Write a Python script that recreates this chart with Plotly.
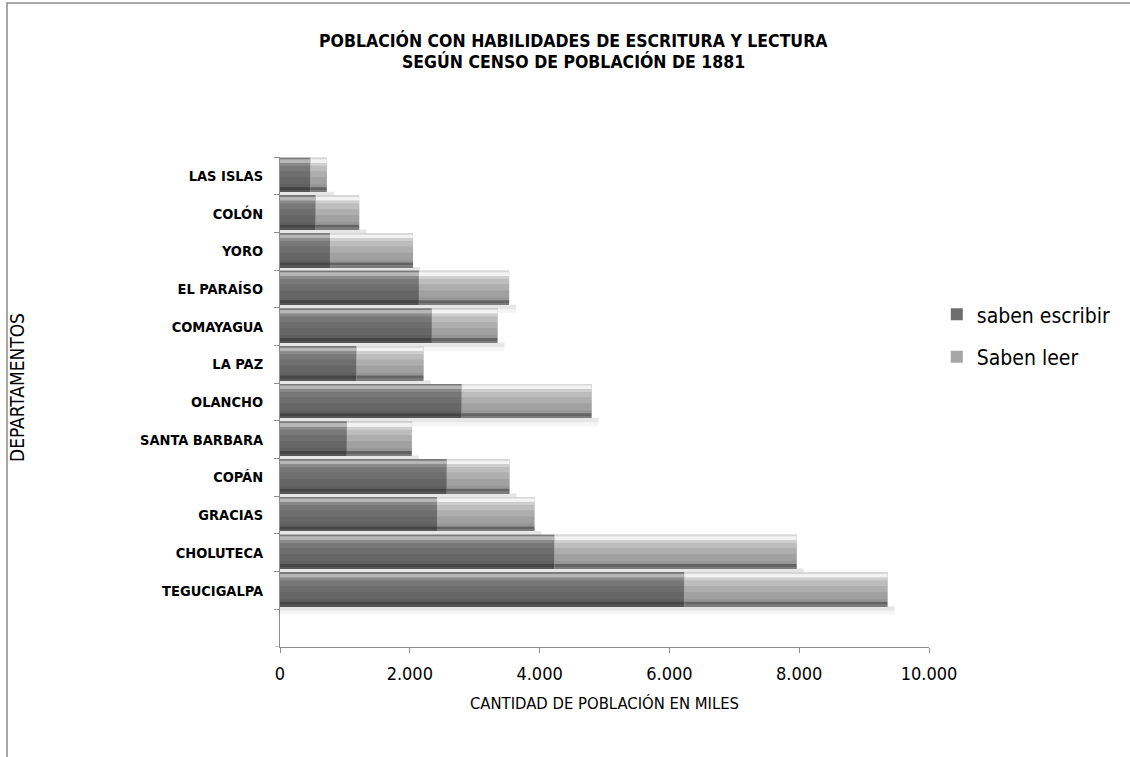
import plotly.graph_objects as go

# Departamentos, de abajo hacia arriba
departamentos = [
    "TEGUCIGALPA", "CHOLUTECA", "GRACIAS", "COPÁN", "SANTA BARBARA", "OLANCHO",
    "LA PAZ", "COMAYAGUA", "EL PARAÍSO", "YORO", "COLÓN", "LAS ISLAS",
]
saben_escribir = [6230, 4230, 2420, 2570, 1030, 2800, 1180, 2340, 2140, 770, 550, 470]
saben_leer = [3130, 3730, 1500, 965, 1000, 2000, 1030, 1010, 1390, 1280, 670, 250]
x_ticks = [0, 2000, 4000, 6000, 8000, 10000]

total = [e + l for e, l in zip(saben_escribir, saben_leer)]

NARROW = "'DejaVu Sans Condensed', 'Liberation Sans', Arial, sans-serif"
AXIS_GREY = "#8c8c8c"

fig = go.Figure()


def layer(values, base, y0, y1, color, name=None, legend=False):
    fig.add_trace(go.Bar(
        y=departamentos, x=values, base=base, orientation="h",
        offset=y0, width=y1 - y0,
        marker=dict(color=color, line=dict(width=0)),
        name=name, showlegend=legend, legendgroup=name,
        hoverinfo="skip" if not legend else None,
    ))


# soft drop shadow under each bar
shadow_len = [t + 110 for t in total]
layer(shadow_len, [0] * len(total), -0.64, -0.42, "rgba(0,0,0,0.04)")
layer(shadow_len, [0] * len(total), -0.54, -0.42, "rgba(0,0,0,0.06)")

# horizontal shading bands of each bar face, top to bottom (offsets within the slot)
BANDS = [(0.44, 0.48), (0.34, 0.44), (0.26, 0.34), (0.12, 0.26),
         (-0.04, 0.12), (-0.22, -0.04), (-0.30, -0.22), (-0.38, -0.30), (-0.42, -0.38)]
series = [
    ("saben escribir", saben_escribir, [0] * len(saben_escribir), "#6e6e6e",
     ["#7a7a7a", "#b6b6b6", "#8a8a8a", "#787878", "#6e6e6e",
      "#666666", "#606060", "#444444", "#565656"]),
    ("Saben leer", saben_leer, saben_escribir, "#a6a6a6",
     ["#d6d6d6", "#f2f2f2", "#cfcfcf", "#bdbdbd", "#aeaeae",
      "#a1a1a1", "#979797", "#636363", "#7c7c7c"]),
]
for name, vals, base, legend_color, shades in series:
    # full-height face carries the legend entry
    layer(vals, base, -0.42, 0.48, legend_color, name=name, legend=True)
    for (y0, y1), col in zip(BANDS, shades):
        layer(vals, base, y0, y1, col)

fig.update_layout(
    width=1130, height=757,
    margin=dict(l=280, r=201, t=157, b=110, autoexpand=False),
    paper_bgcolor="white", plot_bgcolor="white",
    barmode="overlay",
    separators=",.",
    font=dict(family=NARROW, color="#000000"),
    showlegend=True,
    legend=dict(
        x=1.012, xanchor="left", y=0.72, yanchor="top",
        font=dict(size=21, family=NARROW, color="#000000"),
        traceorder="grouped", tracegroupgap=12,
        bgcolor="rgba(0,0,0,0)", itemwidth=30,
    ),
    xaxis=dict(
        range=[0, 10000], tickvals=x_ticks, tickformat=",d",
        showgrid=False, zeroline=False,
        showline=True, linecolor=AXIS_GREY, linewidth=1,
        ticks="outside", ticklen=5, tickcolor=AXIS_GREY,
        tickfont=dict(size=18, family=NARROW),
        ticklabelstandoff=5,
        title=dict(text="CANTIDAD DE POBLACIÓN EN MILES",
                   font=dict(size=16.5, family=NARROW), standoff=14),
    ),
    yaxis=dict(
        type="category", categoryorder="array", categoryarray=departamentos,
        range=[-1.5, 11.5], tickson="boundaries",
        showgrid=False, zeroline=False,
        showline=True, linecolor=AXIS_GREY, linewidth=1,
        ticks="outside", ticklen=5, tickcolor=AXIS_GREY,
        tickfont=dict(size=14.5, family=NARROW),
        ticklabelstandoff=13,
    ),
)

# bold category labels
fig.update_yaxes(ticktext=[f"<b>{d}</b>" for d in departamentos], tickvals=departamentos)

# closing tick at the bottom of the category axis
fig.add_shape(type="line", xref="paper", yref="y",
              x0=-5 / 649, x1=0, y0=-1.5, y1=-1.5,
              line=dict(color=AXIS_GREY, width=1))

# chart-area frame
fig.add_shape(type="rect", xref="paper", yref="paper",
              x0=(7 - 280) / 649, x1=2.0, y0=-1.0, y1=(647 - 3) / 490,
              line=dict(color="#8a8a8a", width=1.5), fillcolor="rgba(0,0,0,0)",
              layer="below")

# title lines
for text, py in [("POBLACIÓN CON HABILIDADES DE ESCRITURA Y LECTURA", 40),
                 ("SEGÚN CENSO DE POBLACIÓN DE 1881", 61)]:
    fig.add_annotation(text=f"<b>{text}</b>", xref="paper", yref="paper",
                       x=(573 - 280) / 649, y=(647 - py) / 490,
                       xanchor="center", yanchor="middle", showarrow=False,
                       font=dict(size=17.5, family=NARROW, color="#000000"))

# vertical axis title
fig.add_annotation(text="DEPARTAMENTOS", xref="paper", yref="paper",
                   x=(17 - 280) / 649, y=(647 - 388) / 490, textangle=-90,
                   xanchor="center", yanchor="middle", showarrow=False,
                   font=dict(size=19, family=NARROW, color="#000000"))

fig.write_html("out.html")
